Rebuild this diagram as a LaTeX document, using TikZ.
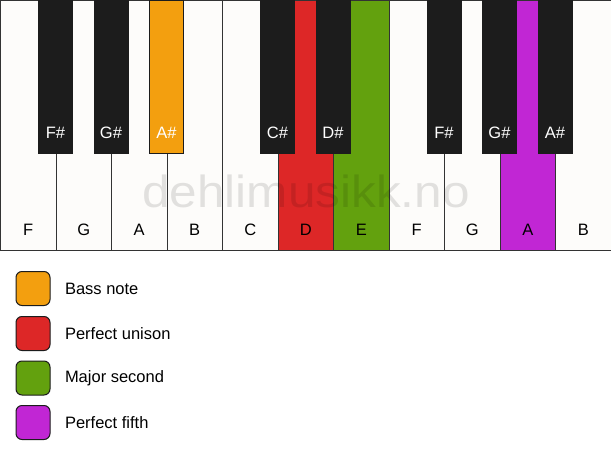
\documentclass[tikz,border=0pt]{standalone}
\usepackage{fontspec}
\setmainfont{Liberation Sans}
\usepackage{tikz}
\usetikzlibrary{positioning}
\definecolor{keywhite}{HTML}{FDFCFA}
\definecolor{keyblack}{HTML}{1C1C1C}
\definecolor{keyedge}{HTML}{333333}
\definecolor{bassorange}{HTML}{F39F0F}
\definecolor{unisonred}{HTML}{DD2727}
\definecolor{secondgreen}{HTML}{63A10E}
\definecolor{fifthpurple}{HTML}{C126D4}
\tikzset{every picture/.style={line width=1pt}}
\tikzstyle{wkey}=[rectangle,draw=keyedge,fill=keywhite,anchor=north west,inner sep=0pt,minimum width=55.5pt,text height=235pt,text depth=15pt,font=\fontsize{16.5}{19}\selectfont]
\tikzstyle{bkey}=[rectangle,draw=keyblack,fill=keyblack,text=white,anchor=north,inner sep=0pt,minimum width=34pt,text height=138pt,text depth=15pt,font=\fontsize{16.5}{19}\selectfont]
\tikzstyle{legbox}=[rectangle,draw=keyblack,rounded corners=6pt,minimum size=34pt,inner sep=0pt]
\tikzstyle{legtext}=[inner sep=0pt,font=\fontsize{16.5}{19}\selectfont]

\begin{document}
\begin{tikzpicture}
  [x=1pt,y=-1pt]
\useasboundingbox (0,0) rectangle (611,461);
\fill[white] (0,0) rectangle (611,461);
% white keys
\node[wkey] (f1) at (0,0) {F};
\node[wkey] (g1) at (55.5,0) {G};
\node[wkey] (a1) at (111,0) {A};
\node[wkey] (b1) at (166.5,0) {B};
\node[wkey] (c2) at (222,0) {C};
\node[wkey,fill=unisonred] (d2) at (277.5,0) {D};
\node[wkey,fill=secondgreen] (e2) at (333,0) {E};
\node[wkey] (f2) at (388.5,0) {F};
\node[wkey] (g2) at (444,0) {G};
\node[wkey,fill=fifthpurple] (a2) at (499.5,0) {A};
\node[wkey] (b2) at (555,0) {B};
% black keys
\node[bkey] (fs1) at (55.5,0) {F\#};
\node[bkey] (gs1) at (111,0) {G\#};
\node[bkey,fill=bassorange] (as1) at (166.5,0) {A\#};
\node[bkey] (cs2) at (277.5,0) {C\#};
\node[bkey] (ds2) at (333,0) {D\#};
\node[bkey] (fs2) at (444,0) {F\#};
\node[bkey] (gs2) at (499.5,0) {G\#};
\node[bkey] (as2) at (555,0) {A\#};
% watermark
\node[inner sep=0pt,text=black,text opacity=0.11,font=\fontsize{45}{50}\selectfont] (wmark) at (306,191) {\scalebox{1.1}[1]{dehlimusikk.no}};
% legend
\node[legbox,fill=bassorange] (bassbox) at (33,288.5) {};
\node[legbox,fill=unisonred] (unisonbox) at (33,333.5) {};
\node[legbox,fill=secondgreen] (secondbox) at (33,378) {};
\node[legbox,fill=fifthpurple] (fifthbox) at (33,422.5) {};
\node[legtext,right=14pt of bassbox] (basstext) {Bass note};
\node[legtext,right=14pt of unisonbox] (unisontext) {Perfect unison};
\node[legtext,right=14pt of secondbox] (secondtext) {Major second};
\node[legtext,right=14pt of fifthbox] (fifthtext) {Perfect fifth};
\end{tikzpicture}
\end{document}
